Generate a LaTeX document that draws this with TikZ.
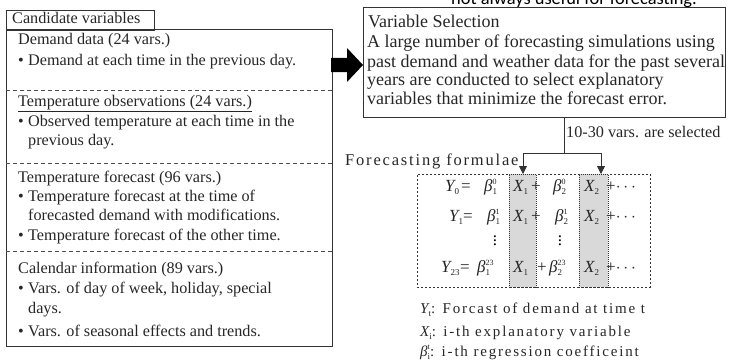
\documentclass[tikz,border=0pt]{standalone}
\usepackage{fontspec}
\setmainfont{Liberation Serif}
\newfontfamily\calib{Carlito}
\newfontfamily\spaced[LetterSpace=12]{Liberation Serif}
\newfontfamily\wider[LetterSpace=11]{Liberation Serif}
\usetikzlibrary{arrows.meta}
\newcommand\sbs[1]{\raisebox{-3.5pt}{\fontsize{9}{9}\selectfont\upshape #1}}
\newcommand\sps[1]{\raisebox{6.5pt}{\fontsize{8}{8}\selectfont\upshape #1}}
\newcommand\bul{\makebox[10pt][l]{•}}
\begin{document}
\begin{tikzpicture}[x=1pt,y=-1pt,
  txt/.style={anchor=base west, inner sep=0pt, text=black!85, font=\fontsize{16.2}{17}\selectfont},
  rtxt/.style={anchor=base west, inner sep=0pt, text=black!85, font=\fontsize{18}{18}\selectfont},
  fm/.style={anchor=base west, inner sep=0pt, text=black!85, font=\fontsize{17}{17}\selectfont\itshape},
  op/.style={anchor=base west, inner sep=0pt, text=black!85, font=\fontsize{17}{17}\selectfont},
  lg/.style={anchor=base west, inner sep=0pt, text=black!85, font=\fontsize{15}{15}\selectfont\spaced},
  box/.style={draw=black!80, line width=0.8pt, inner sep=0pt},
  sep/.style={draw=black!70, dash pattern=on 4pt off 3pt, line width=0.7pt},
  colbox/.style={fill=black!15, draw=black!80, dash pattern=on 1pt off 1pt, line width=0.6pt, inner sep=0pt, anchor=north west},
  conn/.style={draw=black!80, line width=0.8pt},
  tip/.style={-{Triangle[length=8pt,width=8pt]}}]
\useasboundingbox (0,0) rectangle (730,361);

% clipped note at top
\node[anchor=base, inner sep=0pt, font=\calib\fontsize{18.4}{20}\selectfont] (note) at (574,5) {not always useful for forecasting.};

% candidate variables
\node[box, anchor=north west, minimum width=148pt, minimum height=20pt] (tab) at (6,10) {};
\node[txt] (tabt) at (12,24) {Candidate variables};
\node[box, anchor=north west, minimum width=326pt, minimum height=317pt] (cv) at (6,29) {};
\draw[sep] (6,90) -- (332,90);
\draw[sep] (6,163) -- (332,163);
\draw[sep] (6,251) -- (332,251);

\node[txt] (l1) at (18,45) {Demand data (24 vars.)};
\node[txt] (l2) at (18,65) {\bul Demand at each time in the previous day.};
\node[txt] (l3) at (18,106) {\underline{Temperature observations (24 vars.)}};
\node[txt] (l4) at (18,126) {\bul Observed temperature at each time in the};
\node[txt] (l5) at (28,145) {previous day.};
\node[txt] (l6) at (18,182) {Temperature forecast (96 vars.)};
\node[txt] (l7) at (18,201) {\bul Temperature forecast at the time of};
\node[txt] (l8) at (28,220) {forecasted demand with modifications.};
\node[txt] (l9) at (18,240) {\bul Temperature forecast of the other time.};
\node[txt] (l10) at (18,273) {Calendar information (89 vars.)};
\node[txt] (l11) at (18,293) {\bul Vars. of day of week, holiday, special};
\node[txt] (l12) at (28,313) {days.};
\node[txt] (l13) at (18,336) {\bul Vars. of seasonal effects and trends.};

% big arrow
\fill[black] (331,58) -- (347,58) -- (347,48) -- (363,65) -- (347,82) -- (347,72) -- (331,72) -- cycle;

% variable selection
\node[box, anchor=north west, minimum width=362pt, minimum height=110pt] (vs) at (363,7) {};
\node[rtxt] (v1) at (368,28) {Variable Selection};
\node[rtxt] (v2) at (367,48) {A large number of forecasting simulations using};
\node[rtxt] (v3) at (367,67) {past demand and weather data for the past several};
\node[rtxt] (v4) at (367,85) {years are conducted to select explanatory};
\node[rtxt] (v5) at (367,104) {variables that minimize the forecast error.};

\node[txt] (sel) at (566,137) {10-30 vars. are selected};
\node[txt, font=\fontsize{16.5}{17}\selectfont\wider] (ff) at (345,165) {Forecasting formulae};

% formula box
\node[draw=black!80, dash pattern=on 2pt off 2pt, line width=0.7pt, inner sep=0pt, anchor=north west, minimum width=233pt, minimum height=113pt] (fb) at (417,174) {};
\node[colbox, minimum width=27pt, minimum height=113pt] (c1) at (509,174) {};
\node[colbox, minimum width=29pt, minimum height=113pt] (c2) at (579,174) {};

\coordinate (br) at (564,153);
\coordinate (t1) at (523,174);
\coordinate (t2) at (601,174);
\draw[conn] (br |- vs.south) -- (br);
\draw[conn, tip] (br) -| (t1);
\draw[conn, tip] (br) -| (t2);

% row 1
\node[fm] (r1a) at (445,191) {Y\sbs{0}};
\node[op] (r1b) at (461,191) {=};
\node[fm] (r1c) at (484,191) {β\rlap{\sps{0}}\sbs{1}};
\node[fm] (r1d) at (513,191) {X\sbs{1}};
\node[op] (r1e) at (531,191) {+};
\node[fm] (r1f) at (553,191) {β\rlap{\sps{0}}\sbs{2}};
\node[fm] (r1g) at (584,191) {X\sbs{2}};
\node[op] (r1h) at (606,191) {+$\cdots$};
% row 2
\node[fm] (r2a) at (449,221) {Y\sbs{1}};
\node[op] (r2b) at (463,221) {=};
\node[fm] (r2c) at (487,221) {β\rlap{\sps{1}}\sbs{1}};
\node[fm] (r2d) at (513,221) {X\sbs{1}};
\node[op] (r2e) at (531,221) {+};
\node[fm] (r2f) at (555,221) {β\rlap{\sps{1}}\sbs{2}};
\node[fm] (r2g) at (584,221) {X\sbs{2}};
\node[op] (r2h) at (606,221) {+$\cdots$};
% vdots
\node[inner sep=0pt, font=\fontsize{17}{17}\selectfont] (vd1) at (495,238) {$\vdots$};
\node[inner sep=0pt, font=\fontsize{17}{17}\selectfont] (vd2) at (560,238) {$\vdots$};
% row 4
\node[fm] (r4a) at (441,272) {Y\sbs{23}};
\node[op] (r4b) at (460,272) {=};
\node[fm] (r4c) at (477,272) {β\rlap{\sps{23}}\sbs{1}};
\node[fm] (r4d) at (513,272) {X\sbs{1}};
\node[op] (r4e) at (537,272) {+};
\node[fm] (r4f) at (549,272) {β\rlap{\sps{23}}\sbs{2}};
\node[fm] (r4g) at (584,272) {X\sbs{2}};
\node[op] (r4h) at (606,272) {+$\cdots$};

% legend
\node[lg] (g1) at (420,313) {{\itshape Y}\sbs{t}: Forcast of demand at time t};
\node[lg] (g2) at (420,336) {{\itshape X}\sbs{i}: i-th explanatory variable};
\node[lg] (g3) at (420,356) {{\itshape β}\rlap{\sps{t}}\sbs{i}: i-th regression coefficeint};
\end{tikzpicture}
\end{document}
